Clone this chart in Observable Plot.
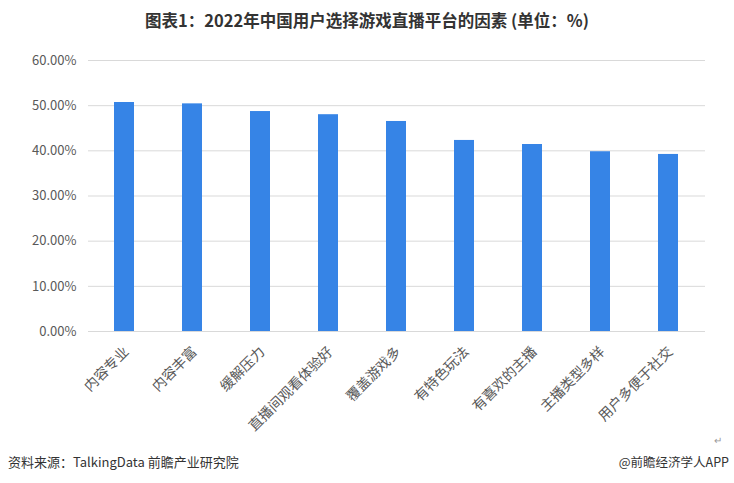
<!DOCTYPE html>
<html>
<head>
<meta charset="utf-8">
<script src="https://cdn.jsdelivr.net/npm/d3@7"></script>
<script src="https://cdn.jsdelivr.net/npm/@observablehq/plot@0.6"></script>
<style>
  body { margin: 0; background: #fff; font-family: "Noto Sans CJK SC", "Noto Sans", sans-serif; }
  #wrap { position: relative; width: 734px; height: 483px; overflow: hidden; }
  #title { height: 40px; line-height: 40px; text-align: center; font-size: 16.5px; font-weight: bold; color: #333; }
  #footer { position: absolute; left: 0; top: 440px; width: 734px; height: 43px; color: #333; }
  #footer .l { position: absolute; left: 8px; top: 12px; font-size: 13px; }
  #footer .r { position: absolute; right: 5px; top: 12px; font-size: 12.5px; }
  #footer .m { position: absolute; left: 714px; top: -8px; font-size: 10px; color: #999; }
</style>
</head>
<body>
<div id="wrap">
  <div id="title">图表1：2022年中国用户选择游戏直播平台的因素 (单位：%)</div>
  <div id="chart"></div>
  <div id="footer"><span class="m">↵</span><span class="l">资料来源：TalkingData 前瞻产业研究院</span><span class="r">@前瞻经济学人APP</span></div>
</div>
<script>
const categories = ["内容专业", "内容丰富", "缓解压力", "直播间观看体验好", "覆盖游戏多", "有特色玩法", "有喜欢的主播", "主播类型多样", "用户多便于社交"];
const values = [50.7, 50.4, 48.7, 48.0, 46.5, 42.3, 41.4, 39.8, 39.2];
const yTicks = [0, 10, 20, 30, 40, 50, 60];

const data = categories.map((c, i) => ({category: c, value: values[i] / 100}));

const chart = Plot.plot({
  width: 734,
  height: 400,
  marginTop: 20,
  marginBottom: 109,
  marginLeft: 88,
  marginRight: 29,
  style: {fontFamily: '"Noto Sans CJK SC", "Noto Sans", sans-serif', fontSize: "13px", color: "#595959", background: "#fff"},
  x: {domain: categories, paddingInner: 0.7, paddingOuter: 0.35, label: null, tickSize: 0, tickRotate: -45, tickPadding: 10},
  y: {domain: [0, 0.6], ticks: yTicks.map(d => d / 100), tickFormat: d3.format(".2%"), label: null, tickSize: 0, tickPadding: 12},
  marks: [
    Plot.gridY(yTicks.map(d => d / 100), {stroke: "#d9d9d9", strokeOpacity: 1, strokeWidth: 1}),
    Plot.barY(data, {x: "category", y: "value", fill: "#3684e6"}),
    Plot.axisY({ticks: yTicks.map(d => d / 100), tickFormat: d3.format(".2%"), tickSize: 0, tickPadding: 12, fontSize: 13, fill: "#595959"}),
    Plot.axisX({tickSize: 0, tickRotate: -45, tickPadding: 12, fontSize: 14, fill: "#595959", dx: 2, dy: 6})
  ]
});
document.getElementById("chart").appendChild(chart);
</script>
</body>
</html>
